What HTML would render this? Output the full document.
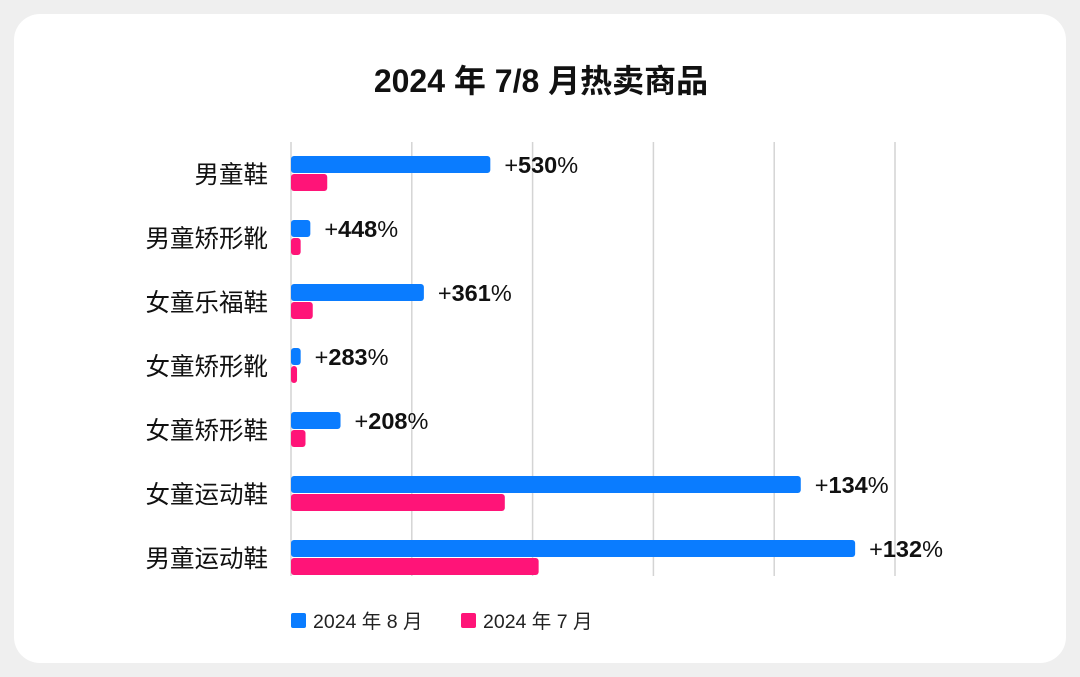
<!DOCTYPE html>
<html><head><meta charset="utf-8"><style>
body{margin:0;background:#efefef;width:1080px;height:677px;overflow:hidden;font-family:"Liberation Sans","Noto Sans CJK SC",sans-serif}
#card{position:absolute;left:14px;top:14px;width:1052px;height:649px;background:#fff;border-radius:26px}
</style></head><body>
<div id="card"></div>
<svg id="chart" width="1080" height="677" style="position:absolute;left:0;top:0">
<text x="541" y="92" text-anchor="middle" font-size="32" font-weight="bold" fill="#111">2024 年 7/8 月热卖商品</text>
<g id="grid"></g><g id="bars"></g>
<g>
<rect x="291" y="613" width="15" height="15" rx="2" fill="#0a7cff"/>
<text x="313" y="628" font-size="19.5" fill="#222">2024 年 8 月</text>
<rect x="461" y="613" width="15" height="15" rx="2" fill="#ff1478"/>
<text x="483" y="628" font-size="19.5" fill="#222">2024 年 7 月</text>
</g>
</svg>
<script>
const categories=["男童鞋","男童矫形靴","女童乐福鞋","女童矫形靴","女童矫形鞋","女童运动鞋","男童运动鞋"];
const aug=[165,16,110,8,41,422,467];
const jul=[30,8,18,5,12,177,205];
const growth=["530","448","361","283","208","134","132"];
const gridTicks=[0,100,200,300,400,500];
const NS="http://www.w3.org/2000/svg";
const x0=291,scale=1.208,rowTop=174,rowStep=64;
const xs=v=>x0+v*scale;
function mk(t,a,p){const e=document.createElementNS(NS,t);for(const k in a)e.setAttribute(k,a[k]);p.appendChild(e);return e;}
const grid=document.getElementById('grid'),bars=document.getElementById('bars');
gridTicks.forEach(t=>{const l=mk('line',{x1:xs(t),x2:xs(t),y1:142,y2:576,stroke:'#d4d4d4','stroke-width':1.5},grid);

});
categories.forEach((c,i)=>{
const cy=rowTop+i*rowStep;
const lab=mk('text',{x:268,y:cy+9,'text-anchor':'end','font-size':24.5,fill:'#111'},bars);lab.textContent=c;


const b=mk('rect',{x:x0,y:cy-18,width:aug[i]*scale,height:17,rx:3,fill:'#0a7cff'},bars);


const p=mk('rect',{x:x0,y:cy,width:jul[i]*scale,height:17,rx:3,fill:'#ff1478'},bars);


const t=mk('text',{x:xs(aug[i])+14,y:cy-1,'font-size':23.5,fill:'#111'},bars);


t.innerHTML='+<tspan font-weight="bold">'+growth[i]+'</tspan>%';
});
</script>
</body></html>
